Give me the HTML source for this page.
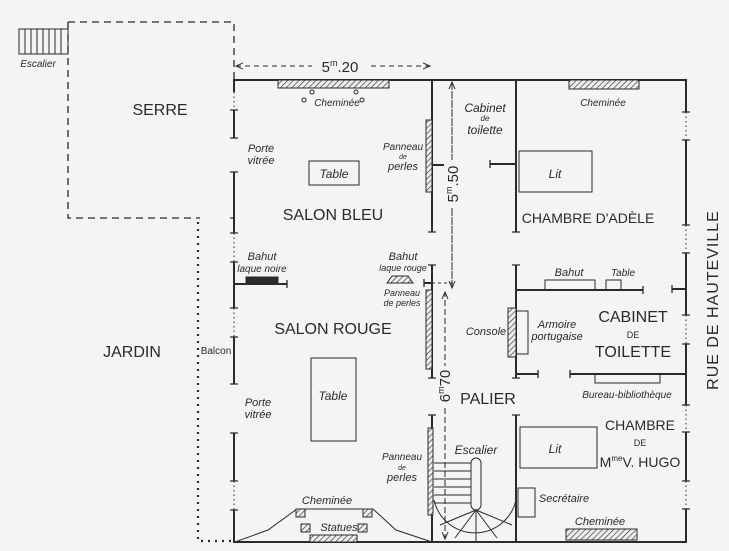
<!DOCTYPE html>
<html><head><meta charset="utf-8"><style>
html,body{margin:0;padding:0;background:#f4f4f2;}
svg{display:block}
text{font-family:"Liberation Sans",sans-serif;fill:#2a2a2a}
.it{font-style:italic;font-family:"Liberation Sans",sans-serif}
</style></head><body>
<svg width="729" height="551" viewBox="0 0 729 551" xmlns="http://www.w3.org/2000/svg">
<defs>
<pattern id="h" width="4" height="4" patternUnits="userSpaceOnUse" patternTransform="rotate(45)">
<rect width="4" height="4" fill="#eee"/><line x1="0" y1="0" x2="0" y2="4" stroke="#333" stroke-width="1.3"/></pattern>
<marker id="a" markerWidth="8" markerHeight="8" refX="7" refY="4" orient="auto"><path d="M0,1 L7,4 L0,7" fill="none" stroke="#333" stroke-width="1"/></marker>
</defs>
<rect width="729" height="551" fill="#f4f4f2"/>
<g stroke="#2a2a2a" fill="none">
<path d="M68,22 H234 V80 M68,22 V218 H200" stroke-dasharray="7,5" stroke-width="1.3"/>
<path d="M198,222 V541 H234" stroke-dasharray="2,5" stroke-width="2.2"/>
<rect x="19" y="29" width="49" height="25" stroke-width="1"/>
<path d="M25,29V54M31,29V54M37,29V54M43,29V54M49,29V54M55,29V54M61,29V54" stroke-width="1"/>
<path d="M236,66 H430" stroke-dasharray="5,4" stroke-width="1" marker-end="url(#a)"/>
<path d="M430,66 H236" stroke-dasharray="5,4" stroke-width="1" marker-end="url(#a)"/>
<path d="M452,82 V288" stroke-dasharray="5,4" stroke-width="1" marker-end="url(#a)"/>
<path d="M452,288 V82" stroke-dasharray="5,4" stroke-width="1" marker-end="url(#a)"/>
<path d="M432,283 H455" stroke-dasharray="3,3" stroke-width="1"/>
<path d="M445,292 V539" stroke-dasharray="5,4" stroke-width="1" marker-end="url(#a)"/>
<path d="M445,539 V292" stroke-dasharray="5,4" stroke-width="1" marker-end="url(#a)"/>
<g stroke-width="2">
<path d="M234,92 V80 H686 V112"/>
<path d="M234,110 V138 M234,172 V233 M234,262 V308 M234,337 V384 M234,433 V481 M234,510 V542 H686 V509"/>
<path d="M686,140 V225 M686,253 V315 M686,344 V405 M686,432 V481"/>
<path d="M432,80 V232 M432,265 V378 M432,415 V542"/>
<path d="M516,80 V232 M516,265 V378 M516,415 V542"/>
<path d="M516,290 H643 M672,289 H686 M516,374 H538 M570,374 H686"/>
<path d="M490,164 H516 M432,165 H455 M234,284 H287 M424,283 H432"/>
</g>
<g stroke-width="1" stroke-dasharray="1.5,3">
<path d="M234,92V110 M234,233V262 M234,308V337 M234,481V510 M686,112V140 M686,225V253 M686,315V344 M686,405V432 M686,481V509"/>
</g>
<g stroke-width="1.3">
<path d="M230,110H238M230,138H238M230,172H238M230,233H238M230,262H238M230,308H238M230,337H238M230,384H238M230,433H238M230,481H238M230,510H238"/>
<path d="M682,112H690M682,140H690M682,225H690M682,253H690M682,315H690M682,344H690M682,405H690M682,432H690M682,481H690M682,509H690"/>
<path d="M428,232H436M428,265H436M428,378H436M428,415H436M512,232H520M512,265H520M512,378H520M512,415H520M490,160V168M455,161V169M287,280V288M643,286V294M672,285V293M538,370V378M570,370V378M424,279V287M230,218H234"/>
</g>
<g stroke-width="1">
<rect x="278" y="80" width="111" height="8" fill="url(#h)"/>
<rect x="426" y="120" width="6" height="72" fill="url(#h)"/>
<rect x="426" y="290" width="6" height="79" fill="url(#h)"/>
<rect x="428" y="428" width="5" height="87" fill="url(#h)"/>
<rect x="569" y="80" width="70" height="9" fill="url(#h)"/>
<rect x="566" y="529" width="71" height="11" fill="url(#h)"/>
<rect x="310" y="535" width="47" height="7" fill="url(#h)"/>
<rect x="508" y="308" width="8" height="49" fill="url(#h)"/>
<rect x="516" y="311" width="12" height="43"/>
<rect x="309" y="161" width="50" height="24"/>
<rect x="311" y="358" width="45" height="83"/>
<rect x="519" y="151" width="73" height="41"/>
<rect x="520" y="427" width="77" height="41"/>
<rect x="518" y="488" width="17" height="29"/>
<rect x="545" y="280" width="50" height="10"/>
<rect x="606" y="280" width="15" height="10"/>
<rect x="595" y="374" width="65" height="9"/>
<rect x="246" y="277" width="32" height="7" fill="#2a2a2a"/>
<path d="M387,283 L392,276 H408 L413,283Z" fill="url(#h)"/>
<circle cx="312" cy="92" r="2"/><circle cx="356" cy="92" r="2"/><circle cx="304" cy="100" r="2"/><circle cx="362" cy="100" r="2"/>
<path d="M235,542 L268,530 L297,509 H373 L396,530 L432,542"/>
<rect x="296" y="509" width="9" height="8" fill="url(#h)"/><rect x="363" y="509" width="9" height="8" fill="url(#h)"/>
<rect x="301" y="524" width="9" height="8" fill="url(#h)"/><rect x="358" y="524" width="9" height="8" fill="url(#h)"/>
<path d="M434,463H471M434,471H471M434,479H471M434,487H471M434,495H471M434,503H471"/>
<rect x="471" y="458" width="10" height="52" rx="5"/>
<path d="M434,500 A42,42 0 0 0 516,500"/>
<path d="M476,510 L440,525 M476,510 L455,538 M476,510 L476,542 M476,510 L497,538 M476,510 L512,525"/>
</g>
</g>
<rect x="312" y="56" width="56" height="18" fill="#f4f4f2"/>
<rect x="444" y="160" width="16" height="48" fill="#f4f4f2"/>
<rect x="437" y="366" width="16" height="40" fill="#f4f4f2"/>
<g font-size="16" text-anchor="middle">
<text x="160" y="115">SERRE</text>
<text x="333" y="220">SALON BLEU</text>
<text x="333" y="334">SALON ROUGE</text>
<text x="132" y="357">JARDIN</text>
<text x="488" y="404">PALIER</text>
<text x="588" y="223" font-size="14">CHAMBRE D'ADÈLE</text>
<text x="633" y="322">CABINET</text>
<text x="633" y="357">TOILETTE</text>
<text x="633" y="338" font-size="9">DE</text>
<text x="640" y="430" font-size="14">CHAMBRE</text>
<text x="640" y="446" font-size="9">DE</text>
<text x="640" y="467" font-size="14">M<tspan font-size="8" dy="-6">me</tspan><tspan dy="6">V. HUGO</tspan></text>
<text x="340" y="72" font-size="15">5<tspan font-size="9" dy="-6">m</tspan><tspan dy="6">.20</tspan></text>
</g>
<text transform="translate(718,300) rotate(-90)" font-size="16" text-anchor="middle" letter-spacing="1">RUE DE HAUTEVILLE</text>
<text transform="translate(458,184) rotate(-90)" font-size="15" text-anchor="middle">5<tspan font-size="9" dy="-6">m</tspan><tspan dy="6">.50</tspan></text>
<text transform="translate(450,386) rotate(-90)" font-size="15" text-anchor="middle">6<tspan font-size="9" dy="-6">m</tspan><tspan dy="6">70</tspan></text>
<g class="it" font-size="11" text-anchor="middle" fill="#2a2a2a">
<text x="38" y="67" font-size="10">Escalier</text>
<text x="337" y="106" font-size="10">Cheminée</text>
<text x="603" y="106" font-size="10">Cheminée</text>
<text x="334" y="178" font-size="12">Table</text>
<text x="333" y="400" font-size="12">Table</text>
<text x="555" y="178" font-size="12">Lit</text>
<text x="555" y="453" font-size="12">Lit</text>
<text x="261" y="152">Porte</text><text x="261" y="164">vitrée</text>
<text x="258" y="406">Porte</text><text x="258" y="418">vitrée</text>
<text x="403" y="150" font-size="10">Panneau</text><text x="403" y="159" font-size="7">de</text><text x="403" y="170">perles</text>
<text x="402" y="460" font-size="10">Panneau</text><text x="402" y="470" font-size="7">de</text><text x="402" y="481">perles</text>
<text x="402" y="296" font-size="9">Panneau</text><text x="402" y="306" font-size="9">de perles</text>
<text x="485" y="112" font-size="12">Cabinet</text><text x="485" y="121" font-size="8">de</text><text x="485" y="134" font-size="12">toilette</text>
<text x="262" y="260">Bahut</text><text x="262" y="272" font-size="10">laque noire</text>
<text x="403" y="260">Bahut</text><text x="403" y="271" font-size="9">laque rouge</text>
<text x="216" y="354" font-size="10" style="font-style:normal">Balcon</text>
<text x="486" y="335">Console</text>
<text x="557" y="328">Armoire</text><text x="557" y="340">portugaise</text>
<text x="569" y="276">Bahut</text>
<text x="623" y="276" font-size="10">Table</text>
<text x="627" y="398" font-size="10">Bureau-bibliothèque</text>
<text x="476" y="454" font-size="12">Escalier</text>
<text x="564" y="502">Secrétaire</text>
<text x="600" y="525">Cheminée</text>
<text x="327" y="504">Cheminée</text>
<text x="339" y="531">Statues</text>
</g>
</svg>
</body></html>
